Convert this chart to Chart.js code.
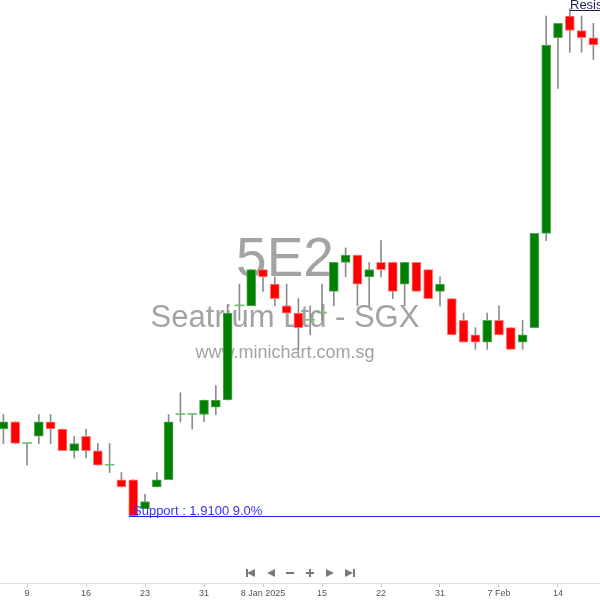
<!DOCTYPE html>
<html>
<head>
<meta charset="utf-8">
<script src="https://cdn.jsdelivr.net/npm/chart.js@4.4.1/dist/chart.umd.min.js"></script>
<style>
  body { margin: 0; background: #fff; }
  #wrap { width: 600px; height: 600px; }
</style>
</head>
<body>
<div id="wrap"><canvas id="chart5e2"></canvas></div>
<script>
// trading days shown (Dec 2024 - Feb 2025)
const tradingDays = [
  "2024-12-05", "2024-12-06", "2024-12-09", "2024-12-10", "2024-12-11", "2024-12-12", "2024-12-13",
  "2024-12-16", "2024-12-17", "2024-12-18", "2024-12-19", "2024-12-20", "2024-12-23", "2024-12-24",
  "2024-12-26", "2024-12-27", "2024-12-30", "2024-12-31", "2025-01-02", "2025-01-03", "2025-01-06",
  "2025-01-07", "2025-01-08", "2025-01-09", "2025-01-10", "2025-01-13", "2025-01-14", "2025-01-15",
  "2025-01-16", "2025-01-17", "2025-01-20", "2025-01-21", "2025-01-22", "2025-01-23", "2025-01-24",
  "2025-01-27", "2025-01-28", "2025-01-31", "2025-02-03", "2025-02-04", "2025-02-05", "2025-02-06",
  "2025-02-07", "2025-02-10", "2025-02-11", "2025-02-12", "2025-02-13", "2025-02-14", "2025-02-17",
  "2025-02-18"
];

const opens  = [2.03, 2.04, 2.01, 2.02, 2.04, 2.03, 2.00, 2.02, 2.00, 1.98, 1.96, 1.96, 1.92, 1.95, 1.96, 2.05, 2.05,
                2.05, 2.06, 2.07, 2.20, 2.20, 2.25, 2.23, 2.20, 2.19, 2.18, 2.19, 2.22, 2.26, 2.27, 2.24, 2.26, 2.26,
                2.23, 2.26, 2.25, 2.22, 2.21, 2.18, 2.16, 2.15, 2.18, 2.17, 2.15, 2.17, 2.30, 2.57, 2.60, 2.58, 2.57];
const highs  = [2.05, 2.04, 2.01, 2.05, 2.05, 2.03, 2.02, 2.03, 2.01, 2.01, 1.97, 1.96, 1.94, 1.97, 2.05, 2.08, 2.05,
                2.07, 2.09, 2.20, 2.23, 2.25, 2.25, 2.24, 2.23, 2.21, 2.20, 2.23, 2.26, 2.28, 2.27, 2.26, 2.29, 2.26,
                2.26, 2.26, 2.25, 2.24, 2.21, 2.19, 2.17, 2.19, 2.20, 2.17, 2.18, 2.30, 2.60, 2.59, 2.61, 2.60, 2.59];
const lows   = [2.01, 2.01, 1.98, 2.01, 2.01, 2.00, 1.99, 1.99, 1.98, 1.97, 1.95, 1.91, 1.92, 1.95, 1.96, 2.04, 2.03,
                2.04, 2.05, 2.07, 2.18, 2.20, 2.22, 2.20, 2.19, 2.14, 2.16, 2.18, 2.20, 2.24, 2.20, 2.20, 2.24, 2.21,
                2.20, 2.22, 2.21, 2.20, 2.16, 2.15, 2.14, 2.14, 2.16, 2.14, 2.14, 2.17, 2.29, 2.50, 2.55, 2.55, 2.54];
const closes = [2.04, 2.01, 2.01, 2.04, 2.03, 2.00, 2.01, 2.00, 1.98, 1.98, 1.95, 1.91, 1.93, 1.96, 2.04, 2.05, 2.05,
                2.07, 2.07, 2.19, 2.20, 2.25, 2.24, 2.21, 2.19, 2.17, 2.18, 2.19, 2.26, 2.27, 2.23, 2.25, 2.25, 2.22,
                2.26, 2.22, 2.21, 2.23, 2.16, 2.15, 2.15, 2.18, 2.16, 2.14, 2.16, 2.30, 2.56, 2.59, 2.58, 2.57, 2.56];

// x axis labels
const tickDays   = ["2024-12-09", "2024-12-16", "2024-12-23", "2024-12-31", "2025-01-08",
                    "2025-01-15", "2025-01-22", "2025-01-31", "2025-02-07", "2025-02-14"];
const tickLabels = ["9", "16", "23", "31", "8 Jan 2025", "15", "22", "31", "7 Feb", "14"];

const supportLevel = 1.91;
const supportText = "Support : 1.9100 9.0%";
const resistanceLevel = 2.61;
const resistanceText = "Resistance : 2.6100";

const bodyData = opens.map((o, i) => ({ x: i, y: [o, closes[i]] }));
const wickData = lows.map((l, i) => ({ x: i, y: [l, highs[i]] }));
const tickPos = tickDays.map(d => tradingDays.indexOf(d));

function bodyColor(ctx) {
  const i = ctx.dataIndex;
  if (closes[i] > opens[i]) return "#008000";
  if (closes[i] < opens[i]) return "#ff0000";
  return "#6fbf6f";
}
function bodyBorder(ctx) {
  const i = ctx.dataIndex;
  if (closes[i] > opens[i]) return "#5aa85a";
  if (closes[i] < opens[i]) return "#ff7a7a";
  return "#6fbf6f";
}

const watermark = {
  id: "watermark",
  beforeDatasetsDraw(chart) {
    const c = chart.ctx;
    c.save();
    c.fillStyle = "#a3a3a3";
    c.textAlign = "center";
    c.textBaseline = "alphabetic";
    c.font = "55px Arial, 'Liberation Sans', sans-serif";
    c.fillText("5E2", 285, 276);
    c.font = "31px Arial, 'Liberation Sans', sans-serif";
    c.fillText("Seatrium Ltd - SGX", 285, 327);
    c.font = "18px Arial, 'Liberation Sans', sans-serif";
    c.fillText("www.minichart.com.sg", 285, 358);
    c.restore();
  }
};

const levels = {
  id: "levels",
  afterDatasetsDraw(chart) {
    const c = chart.ctx;
    const x = chart.scales.x, y = chart.scales.y;
    const right = chart.chartArea.right;
    c.save();
    c.font = "13px Arial, 'Liberation Sans', sans-serif";
    c.textAlign = "left";
    c.textBaseline = "alphabetic";
    // support
    let py = Math.round(y.getPixelForValue(supportLevel));
    let px = Math.round(x.getPixelForValue(10.65));
    c.fillStyle = "rgb(30, 30, 255)";
    c.fillRect(px, py, right - px, 1);
    c.fillStyle = "rgb(52, 52, 238)";
    c.fillText(supportText, px + 4, py - 1);
    // resistance
    py = Math.round(y.getPixelForValue(resistanceLevel)) + 1;
    px = Math.round(x.getPixelForValue(48));
    c.fillStyle = "#1c1c50";
    c.fillRect(px, py, right - px, 1);
    c.fillText(resistanceText, px, py - 1);
    c.restore();
  }
};

const navIcons = {
  id: "navIcons",
  afterDraw(chart) {
    const c = chart.ctx;
    const cy = 573;
    c.save();
    c.fillStyle = "#7a7a7a";
    function tri(x, dir) {
      c.beginPath();
      c.moveTo(x + 4 * dir, cy - 4);
      c.lineTo(x - 4 * dir, cy);
      c.lineTo(x + 4 * dir, cy + 4);
      c.closePath();
      c.fill();
    }
    tri(251, 1); c.fillRect(246, cy - 4, 2, 8);
    tri(271, 1);
    c.fillRect(286, cy - 1, 8, 2);
    c.fillRect(306, cy - 1, 8, 2); c.fillRect(309, cy - 4, 2, 8);
    tri(330, -1);
    tri(349, -1); c.fillRect(353, cy - 4, 2, 8);
    c.restore();
  }
};

new Chart(document.getElementById("chart5e2"), {
  type: "bar",
  data: {
    datasets: [
      {
        label: "body",
        data: bodyData,
        backgroundColor: bodyColor,
        borderColor: bodyBorder,
        borderWidth: ctx => (closes[ctx.dataIndex] === opens[ctx.dataIndex] ? 0 : 1),
        borderSkipped: false,
        barThickness: 9,
        minBarLength: 1,
        grouped: false,
        order: 0
      },
      {
        label: "wick",
        data: wickData,
        backgroundColor: "#8c8c8c",
        borderWidth: 0,
        barThickness: 1,
        grouped: false,
        order: 1
      }
    ]
  },
  options: {
    responsive: true,
    maintainAspectRatio: false,
    animation: false,
    layout: { padding: 0 },
    plugins: {
      legend: { display: false },
      tooltip: { enabled: false }
    },
    scales: {
      x: {
        type: "linear",
        offset: false,
        min: -0.29,
        max: 50.56,
        afterBuildTicks: axis => { axis.ticks = tickPos.map(v => ({ value: v })); },
        ticks: {
          autoSkip: false,
          maxRotation: 0,
          padding: 2,
          color: "#555",
          font: { size: 9, lineHeight: 1, family: "Arial, 'Liberation Sans', sans-serif" },
          callback: value => tickLabels[tickPos.indexOf(value)]
        },
        grid: { offset: false, drawOnChartArea: false, drawTicks: true, tickLength: 4, color: "#c8c8c8" },
        border: { display: true, color: "#dcdcdc", width: 1 }
      },
      y: {
        display: false,
        min: 1.8175,
        max: 2.6221
      }
    }
  },
  plugins: [watermark, levels, navIcons]
});
</script>
</body>
</html>
